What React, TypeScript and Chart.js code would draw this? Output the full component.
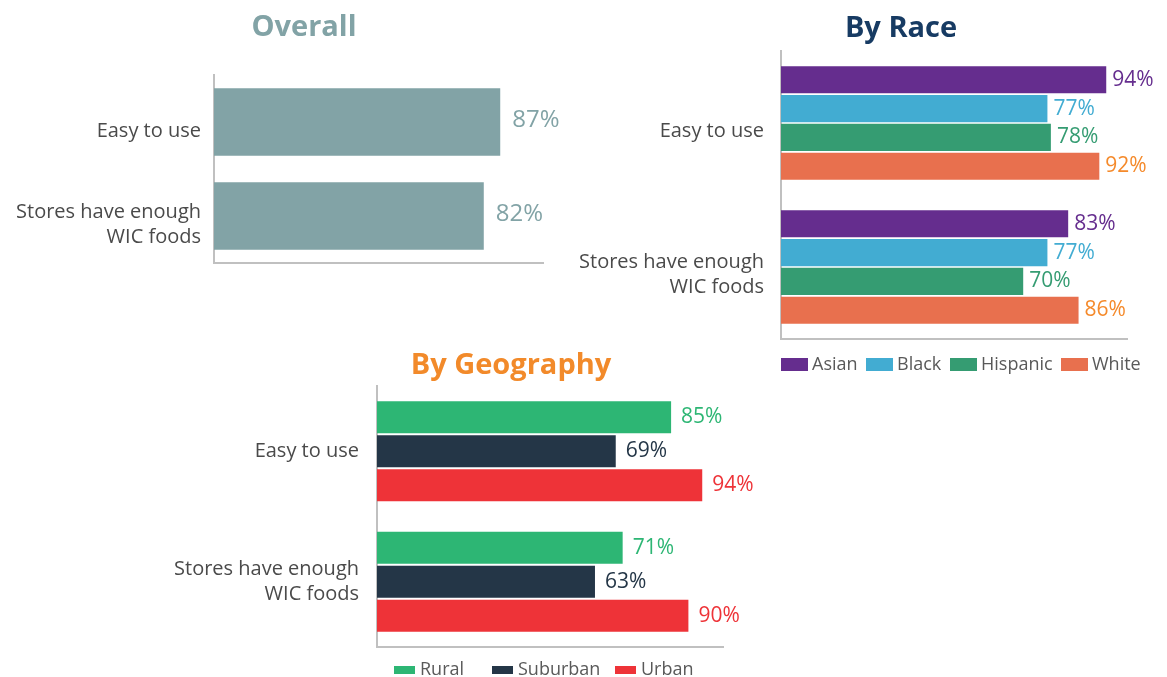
import React, { useEffect, useRef } from "react";
import { Chart, registerables } from "chart.js";

Chart.register(...registerables);

const FONT = '"Open Sans", "Liberation Sans", sans-serif';

// ---------- data ----------
const categoryLabels = [["Easy to use"], ["Stores have enough", "WIC foods"]];

const overallValues = [87, 82];

const raceNames = ["Asian", "Black", "Hispanic", "White"];
const raceAsian = [94, 83];
const raceBlack = [77, 77];
const raceHispanic = [78, 70];
const raceWhite = [92, 86];

const geoNames = ["Rural", "Suburban", "Urban"];
const geoRural = [85, 71];
const geoSuburban = [69, 63];
const geoUrban = [94, 90];

// ---------- styles ----------
type Box = { x: number; y: number; w: number; h: number };
type Area = { l: number; r: number; t: number; b: number };

type PanelSpec = {
  canvas: Box;
  area: Area;
  title: string;
  titleColor: string;
  titlePos: [number, number];
  tickPadding: number;
  labelOffset: number;
  catPct: number;
  barPct: number;
  valueFontSize: number;
  valueGap: number;
  valueDy: number;
  datasets: { label: string; data: number[]; bar: string; text: string }[];
  legend?: {
    xs: number[];
    boxY: number;
    boxW: number;
    boxH: number;
    textY: number;
    gap: number;
  };
};

const panels: PanelSpec[] = [
  {
    canvas: { x: 0, y: 0, w: 620, h: 300 },
    area: { l: 214, r: 543, t: 75, b: 263 },
    title: "Overall",
    titleColor: "#82A3A6",
    titlePos: [304, 28],
    tickPadding: 13,
    labelOffset: 9,
    catPct: 1,
    barPct: 0.72,
    valueFontSize: 24,
    valueGap: 12,
    valueDy: -2,
    datasets: [{ label: "Overall", data: overallValues, bar: "#82A3A6", text: "#82A3A6" }],
  },
  {
    canvas: { x: 560, y: 0, w: 607, h: 390 },
    area: { l: 781, r: 1127, t: 51, b: 339 },
    title: "By Race",
    titleColor: "#173B63",
    titlePos: [901, 29],
    tickPadding: 17,
    labelOffset: 8,
    catPct: 0.8,
    barPct: 0.94,
    valueFontSize: 21,
    valueGap: 6,
    valueDy: 0,
    datasets: [
      { label: raceNames[0], data: raceAsian, bar: "#652D8E", text: "#652D8E" },
      { label: raceNames[1], data: raceBlack, bar: "#42ACD2", text: "#42ACD2" },
      { label: raceNames[2], data: raceHispanic, bar: "#359C72", text: "#359C72" },
      { label: raceNames[3], data: raceWhite, bar: "#E8704E", text: "#F58A2B" },
    ],
    legend: { xs: [781, 866, 950, 1061], boxY: 358, boxW: 27, boxH: 13, textY: 365, gap: 4 },
  },
  {
    canvas: { x: 150, y: 330, w: 620, h: 347 },
    area: { l: 377, r: 723, t: 386, b: 647 },
    title: "By Geography",
    titleColor: "#F28A2A",
    titlePos: [511, 366],
    tickPadding: 18,
    labelOffset: 0,
    catPct: 0.78,
    barPct: 0.94,
    valueFontSize: 21,
    valueGap: 10,
    valueDy: 0,
    datasets: [
      { label: geoNames[0], data: geoRural, bar: "#2DB674", text: "#2DB674" },
      { label: geoNames[1], data: geoSuburban, bar: "#243647", text: "#243647" },
      { label: geoNames[2], data: geoUrban, bar: "#EE3338", text: "#EE3338" },
    ],
    legend: { xs: [394, 492, 615], boxY: 666, boxW: 21, boxH: 8, textY: 670, gap: 5 },
  },
];

function makeDecor(spec: PanelSpec) {
  return {
    id: "decor",
    afterDatasetsDraw(chart: any) {
      const ctx = chart.ctx;
      ctx.save();
      ctx.font = `${spec.valueFontSize}px ${FONT}`;
      ctx.textAlign = "left";
      ctx.textBaseline = "middle";
      chart.data.datasets.forEach((ds: any, di: number) => {
        const meta = chart.getDatasetMeta(di);
        meta.data.forEach((el: any, i: number) => {
          ctx.fillStyle = spec.datasets[di].text;
          ctx.fillText(ds.data[i] + "%", el.x + spec.valueGap, el.y + spec.valueDy);
        });
      });
      ctx.restore();
    },
    afterDraw(chart: any) {
      const ctx = chart.ctx;
      const ox = spec.canvas.x;
      const oy = spec.canvas.y;
      ctx.save();
      ctx.font = `bold 29px ${FONT}`;
      ctx.fillStyle = spec.titleColor;
      ctx.textAlign = "center";
      ctx.textBaseline = "middle";
      ctx.fillText(spec.title, spec.titlePos[0] - ox, spec.titlePos[1] - oy);
      if (spec.legend) {
        const lg = spec.legend;
        ctx.font = `18px ${FONT}`;
        ctx.textAlign = "left";
        spec.datasets.forEach((ds, i) => {
          const bx = lg.xs[i] - ox;
          ctx.fillStyle = ds.bar;
          ctx.fillRect(bx, lg.boxY - oy, lg.boxW, lg.boxH);
          ctx.fillStyle = "#595959";
          ctx.fillText(ds.label, bx + lg.boxW + lg.gap, lg.textY - oy);
        });
      }
      ctx.restore();
    },
  };
}

function Panel({ spec }: { spec: PanelSpec }) {
  const ref = useRef<HTMLCanvasElement | null>(null);
  useEffect(() => {
    const c = spec.canvas;
    const a = spec.area;
    const yWidth = a.l - c.x;
    const chart = new Chart(ref.current as HTMLCanvasElement, {
      type: "bar",
      data: {
        labels: categoryLabels as any,
        datasets: spec.datasets.map((d) => ({
          label: d.label,
          data: d.data,
          backgroundColor: d.bar,
          borderWidth: 0,
          categoryPercentage: spec.catPct,
          barPercentage: spec.barPct,
        })),
      },
      options: {
        indexAxis: "y",
        responsive: false,
        maintainAspectRatio: false,
        animation: false,
        events: [],
        layout: {
          padding: {
            left: 0,
            top: a.t - c.y,
            right: c.x + c.w - a.r,
            bottom: c.y + c.h - a.b,
          },
        },
        plugins: {
          legend: { display: false },
          title: { display: false },
          tooltip: { enabled: false },
        },
        scales: {
          x: {
            type: "linear",
            min: 0,
            max: 100,
            grid: { display: false, drawTicks: false },
            border: { display: true, color: "#C0C0C0", width: 2 },
            ticks: { display: false },
            afterFit: (s: any) => {
              s.height = 0;
              s.paddingLeft = 0;
              s.paddingRight = 0;
            },
          },
          y: {
            type: "category",
            grid: { display: false, drawTicks: false },
            border: { display: true, color: "#C0C0C0", width: 2 },
            ticks: {
              color: "#4A4A4A",
              padding: spec.tickPadding,
              labelOffset: spec.labelOffset,
              font: { family: FONT, size: 20, lineHeight: 1.25 },
              autoSkip: false,
            },
            afterFit: (s: any) => {
              s.width = yWidth;
              s.paddingTop = 0;
              s.paddingBottom = 0;
            },
          },
        },
      } as any,
      plugins: [makeDecor(spec)],
    });
    return () => chart.destroy();
  }, [spec]);
  const c = spec.canvas;
  return (
    <canvas
      ref={ref}
      width={c.w}
      height={c.h}
      style={{ position: "absolute", left: c.x, top: c.y, width: c.w, height: c.h }}
    />
  );
}

export default function App() {
  return (
    <div
      style={{
        position: "absolute",
        left: 0,
        top: 0,
        width: 1167,
        height: 677,
        overflow: "hidden",
        background: "#FFFFFF",
      }}
    >
      {panels.map((p, i) => (
        <Panel key={i} spec={p} />
      ))}
    </div>
  );
}
